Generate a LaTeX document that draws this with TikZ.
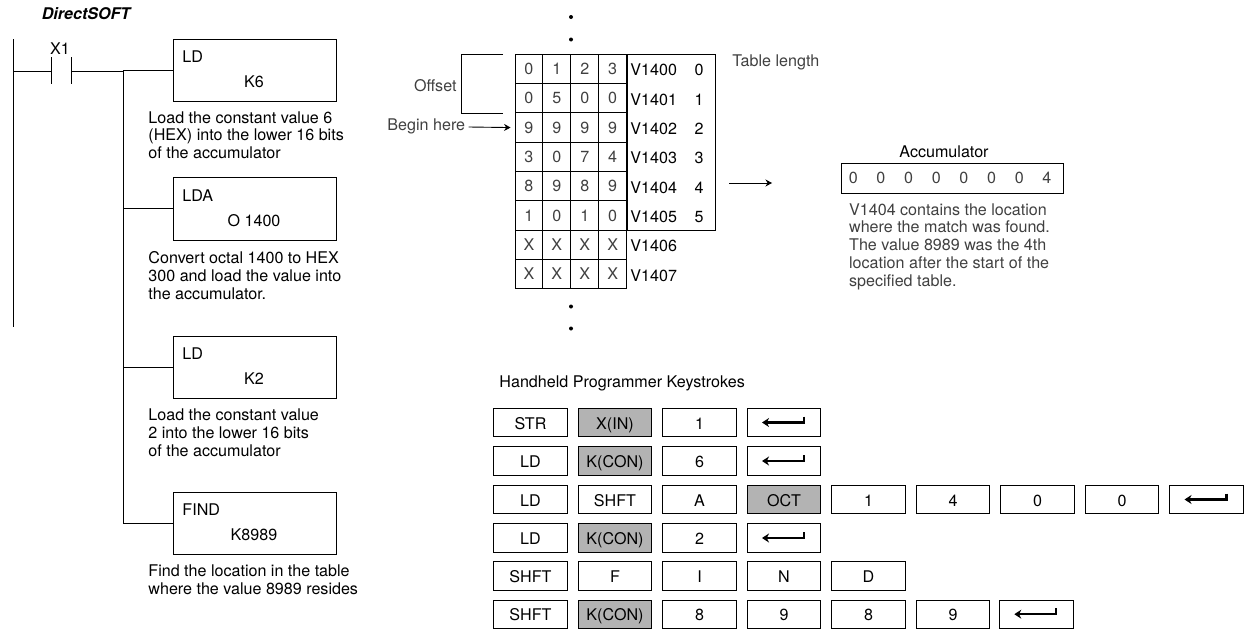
\documentclass[tikz,border=0pt]{standalone}
\usepackage{fontspec}
\setmainfont{TeX Gyre Heros}
\usetikzlibrary{arrows.meta}
\definecolor{keygray}{HTML}{B3B3B3}
\definecolor{softblack}{HTML}{404040}
\tikzset{
  ladbox/.style={draw,minimum width=162.5,minimum height=62.5,inner sep=0},
  ladtxt/.style={inner sep=0,font=\fontsize{16.1}{17.8}\selectfont},
  notetxt/.style={ladtxt,anchor=north west,align=left},
  cellbox/.style={draw,minimum width=27.9,minimum height=29.3,inner sep=0,text=softblack,font=\fontsize{16.1}{18}\selectfont},
  addrtxt/.style={ladtxt,anchor=west},
  graytxt/.style={ladtxt,text=softblack},
  keybox/.style={draw,minimum width=73.5,minimum height=28.5,inner sep=0,text height=13,text depth=0,font=\fontsize{16.1}{18}\selectfont},
  graykey/.style={keybox,fill=keygray},
  enterline/.style={line width=2.2pt,-{Stealth[length=7pt,width=9pt]}}
}
\newcommand{\enterarrow}[1]{\draw[enterline] ([shift={(20,-6)}]#1.center) |- ([xshift=-22]#1.center);}
\begin{document}
\begin{tikzpicture}[x=1pt,y=-1pt,>={Stealth[length=6.5pt,width=7pt]},line width=0.9pt]
\useasboundingbox (0,0) rectangle (1246,629);
\node[ladtxt,font=\fontsize{16.1}{18}\selectfont\bfseries\itshape] (softname) at (86,14) {DirectSOFT};
\coordinate (railtop) at (13,39);
\coordinate (railbot) at (13,327);
\coordinate (rungL) at (13,71);
\coordinate (contA) at (51.5,71);
\coordinate (contB) at (71,71);
\coordinate (jtop) at (123,71);
\coordinate (jbot) at (123,523);
\node[ladtxt] (xone) at (60,49) {X1};
\draw (railtop)--(railbot);
\draw (rungL)--(contA);
\draw ([yshift=14]contA)--([yshift=-13]contA);
\draw ([yshift=14]contB)--([yshift=-13]contB);
\draw (jtop)--(jbot);
\foreach \n/\y/\op/\val in {a/70.5/LD/K6,b/208.75/LDA/O 1400,c/367.5/LD/K2,d/523.5/FIND/K8989}{
    \node[ladbox] (box\n) at (254.75,\y) {};
    \node[ladtxt,anchor=west] (op\n) at (182,\y-13.5) {\op};
    \node[ladtxt] (val\n) at (254,\y+11.5) {\val};
    \draw (jtop |- box\n.west)--(box\n.west);
}
\draw (contB)--(jtop);
\node[notetxt] (notea) at (148,111) {Load the constant value 6\\(HEX) into the lower 16 bits\\of the accumulator};
\node[notetxt] (noteb) at (148,251.5) {Convert octal 1400 to HEX\\300 and load the value into\\the accumulator.};
\node[notetxt] (notec) at (148,408.5) {Load the constant value\\2 into the lower 16 bits\\of the accumulator};
\node[notetxt] (noted) at (148,564.5) {Find the location in the table\\where the value 8989 resides};
\node[draw,minimum width=88,minimum height=175.8,inner sep=0] (lenbox) at (671,142.2) {};
\foreach \r/\digits in {0/{0,1,2,3},1/{0,5,0,0},2/{9,9,9,9},3/{3,0,7,4},4/{8,9,8,9},5/{1,0,1,0},6/{X,X,X,X},7/{X,X,X,X}}{
    \foreach \d [count=\c from 0] in \digits{
        \node[cellbox] (cell\r\c) at ({515+27.9*(\c+0.5)},{54.3+29.3*(\r+0.5)}) {\d};
    }
    \node[addrtxt] (addr\r) at (630,{55.5+29.3*(\r+0.5)}) {V140\r};
}
\foreach \r in {0,...,5}{
    \node[ladtxt] (idx\r) at (699,{55.5+29.3*(\r+0.5)}) {\r};
}
\foreach \y in {17,39.5,306.5,328.5}{
    \fill (571,\y) circle (2);
}
\node[graytxt,anchor=west] (tablelen) at (732,62) {Table length};
\node[graytxt,anchor=east] (offset) at (457,86) {Offset};
\coordinate (brackA) at (503,54.5);
\coordinate (brackB) at (503,113);
\draw (brackA)-|(461,113)--(brackB);
\node[graytxt,anchor=west] (begin) at (387,126) {Begin here};
\draw[->] (begin.east)++(3,1)--([xshift=-4]cell20.west);
\coordinate (matchL) at (729,183);
\coordinate (matchR) at (772,183);
\draw[->] (matchL)--(matchR);
\node[ladtxt] (acclabel) at (944,152) {Accumulator};
\node[draw,minimum width=222,minimum height=30,inner sep=0] (accbox) at (952,178) {};
\foreach \d [count=\c from 0] in {0,0,0,0,0,0,0,4}{
    \node[graytxt] (acc\c) at ({853.3+27.66*\c},178) {\d};
}
\node[notetxt,text=softblack] (accnote) at (848.7,203) {V1404 contains the location\\where the match was found.\\The value 8989 was the 4th\\location after the start of the\\specified table.};
\node[ladtxt,anchor=west] (handheld) at (499,383) {Handheld Programmer Keystrokes};
\foreach \c/\keytxt/\s in {1/STR/keybox,2/X(IN)/graykey,3/1/keybox,4//keybox}{
    \node[\s] (ka\c) at (446+84.5*\c,422.5) {\keytxt};
}
\foreach \c/\keytxt/\s in {1/LD/keybox,2/K(CON)/graykey,3/6/keybox,4//keybox}{
    \node[\s] (kb\c) at (446+84.5*\c,461) {\keytxt};
}
\foreach \c/\keytxt/\s in {1/LD/keybox,2/SHFT/keybox,3/A/keybox,4/OCT/graykey,5/1/keybox,6/4/keybox,7/0/keybox,8/0/keybox,9//keybox}{
    \node[\s] (kc\c) at (446+84.5*\c,499.5) {\keytxt};
}
\foreach \c/\keytxt/\s in {1/LD/keybox,2/K(CON)/graykey,3/2/keybox,4//keybox}{
    \node[\s] (kd\c) at (446+84.5*\c,538) {\keytxt};
}
\foreach \c/\keytxt/\s in {1/SHFT/keybox,2/F/keybox,3/I/keybox,4/N/keybox,5/D/keybox}{
    \node[\s] (ke\c) at (446+84.5*\c,576) {\keytxt};
}
\foreach \c/\keytxt/\s in {1/SHFT/keybox,2/K(CON)/graykey,3/8/keybox,4/9/keybox,5/8/keybox,6/9/keybox}{
    \node[\s] (kf\c) at (446+84.5*\c,614.2) {\keytxt};
}
\node[keybox] (kf7) at (1036.3,614.2) {};
\enterarrow{ka4}
\enterarrow{kb4}
\enterarrow{kc9}
\enterarrow{kd4}
\enterarrow{kf7}
\end{tikzpicture}
\end{document}
